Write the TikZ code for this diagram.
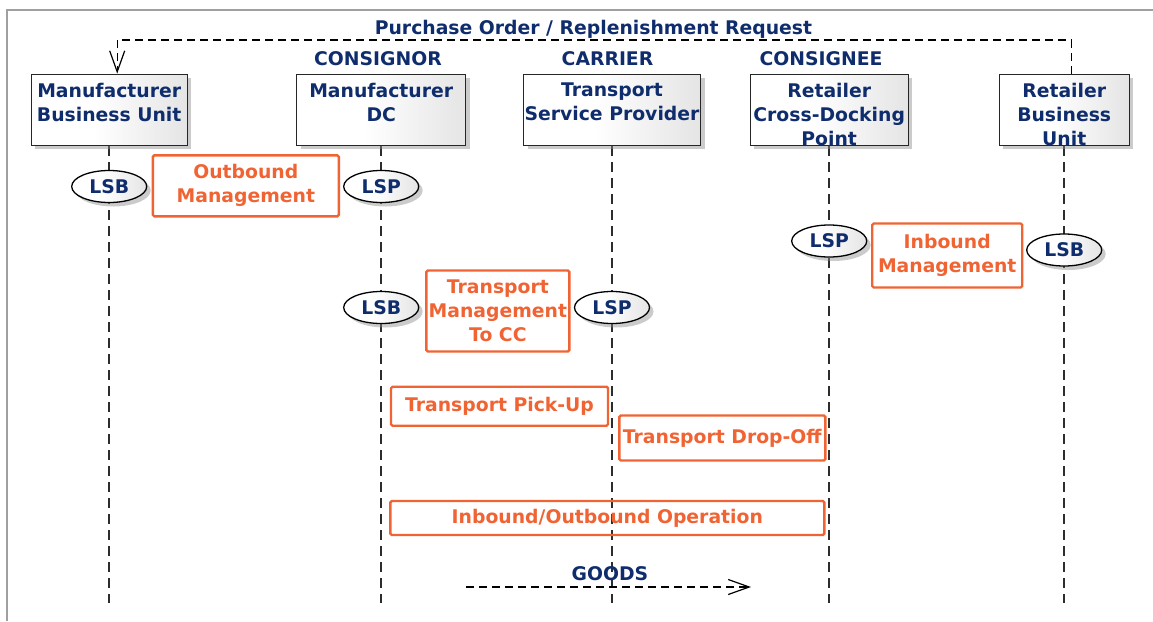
\documentclass[tikz,border=0pt]{standalone}
\usepackage{fontspec}
\setmainfont{DejaVu Sans}
\usetikzlibrary{shapes.geometric,shadows,arrows.meta,calc,backgrounds}
\definecolor{ttnavy}{RGB}{15,45,108}
\definecolor{ttorange}{RGB}{240,100,52}
\definecolor{framegray}{RGB}{160,160,160}
\definecolor{lifegray}{RGB}{45,45,45}
\pgfdeclarehorizontalshading{boxshade}{100bp}{color(0bp)=(white); color(45bp)=(white); color(100bp)=(black!19)}
\tikzset{
  txt/.style={font=\bfseries\fontsize{18.8}{24}\selectfont, text=ttnavy, align=center},
  orgtxt/.style={font=\bfseries\fontsize{18.8}{24}\selectfont, text=ttorange, align=center},
  lifebox/.style={draw=black!85, line width=1.4pt, shading=boxshade, inner sep=0pt,
    minimum height=71pt, drop shadow={shadow xshift=4pt, shadow yshift=-4pt, fill=black!45, opacity=0.45}},
  boxlabel/.style={txt, anchor=north, inner sep=0pt},
  rolenode/.style={ellipse, draw=black, line width=1.3pt, shading=boxshade, inner sep=0pt,
    minimum width=75pt, minimum height=32pt, txt,
    drop shadow={shadow xshift=4pt, shadow yshift=-4pt, fill=black!45, opacity=0.45}},
  actbox/.style={draw=ttorange, line width=2.4pt, rounded corners=1.5pt, orgtxt, inner sep=0pt},
  lifeline/.style={draw=lifegray, line width=1.8pt, dash pattern=on 10pt off 6pt},
  msg/.style={draw=black, line width=1.2pt, dash pattern=on 8pt off 5pt,
    -{Straight Barb[length=21pt,width=15pt,line width=1.2pt]}},
}
\begin{document}
\begin{tikzpicture}[x=1pt,y=-1pt]
\useasboundingbox (0,0) rectangle (1153,621);
% frame
\draw[framegray, line width=2pt] (7,621) -- (7,10) -- (1153,10);

% lifeline boxes
\node[lifebox, minimum width=156pt] (mbu) at (109.2,109.8) {};
\node[lifebox, minimum width=169pt] (mdc) at (381.2,109.8) {};
\node[lifebox, minimum width=177pt] (tsp) at (612,109.8) {};
\node[lifebox, minimum width=158pt] (rcdp) at (829.2,109.8) {};
\node[lifebox, minimum width=130pt] (rbu) at (1064.2,109.8) {};

\node[boxlabel] (mbut) at ($(mbu.north)+(0,9)$) {Manufacturer\\Business Unit};
\node[boxlabel] (mdct) at ($(mdc.north)+(0,9)$) {Manufacturer\\DC};
\node[boxlabel] (tspt) at ($(tsp.north)+(0,9)$) {Transport\\Service Provider};
\node[boxlabel] (rcdpt) at ($(rcdp.north)+(0,9)$) {Retailer\\Cross-Docking\\Point};
\node[boxlabel] (rbut) at ($(rbu.north)+(0,9)$) {Retailer\\Business\\Unit};

% role headers
\node[txt, anchor=base] (consignor) at (378,65) {CONSIGNOR};
\node[txt, anchor=base] (carrier) at (607.5,65) {CARRIER};
\node[txt, anchor=base] (consignee) at (821,65) {CONSIGNEE};
\node[txt, anchor=base] (title) at (593.5,34) {Purchase Order / Replenishment Request};

% end points of lifelines
\coordinate (bot) at (0,603);
\begin{scope}[on background layer]
\draw[lifeline] (mbu.south) -- (mbu.south |- bot);
\draw[lifeline] (mdc.south) -- (mdc.south |- bot);
\draw[lifeline] (tsp.south) -- (tsp.south |- bot);
\draw[lifeline] (rcdp.south) -- (rcdp.south |- bot);
\draw[lifeline] (rbu.south) -- (rbu.south |- bot);
\end{scope}

% role ellipses
\node[rolenode] (lsb1) at (109.2,186.5) {LSB};
\node[rolenode] (lsp1) at (381.2,186.5) {LSP};
\node[rolenode] (lsb2) at (381.2,307.5) {LSB};
\node[rolenode] (lsp2) at (612,307.5) {LSP};
\node[rolenode] (lsp3) at (829.2,241) {LSP};
\node[rolenode] (lsb3) at (1064.2,250) {LSB};

% activity boxes
\node[actbox, minimum width=186pt, minimum height=61pt] (outb) at (245.8,185.8) {Outbound\\Management};
\node[actbox, minimum width=150pt, minimum height=64pt] (inb) at (947.2,255.5) {Inbound\\Management};
\node[actbox, minimum width=143pt, minimum height=81pt] (tmcc) at (497.9,311) {Transport\\Management\\To CC};
\node[actbox, minimum width=217pt, minimum height=39pt] (pick) at (499.5,406.2) {Transport Pick-Up};
\node[actbox, minimum width=206pt, minimum height=45pt] (drop) at (722.3,438) {Transport Drop-Off};
\node[actbox, minimum width=434pt, minimum height=34pt] (ioop) at (607.3,518) {Inbound/Outbound Operation};

% purchase order message
\coordinate (reqA) at ($(rbu.north)+(7,0)$);
\coordinate (reqB) at ($(mbu.north)+(8,0)$);
\coordinate (reqtop) at (0,40);
\draw[msg] (reqA) -- (reqA |- reqtop) -| (reqB);

% goods flow
\node[txt, anchor=base] (goods) at (610,580) {GOODS};
\coordinate (gA) at (466,587);
\coordinate (gB) at (751,587);
\draw[msg] (gA) -- (gB);
\end{tikzpicture}
\end{document}
